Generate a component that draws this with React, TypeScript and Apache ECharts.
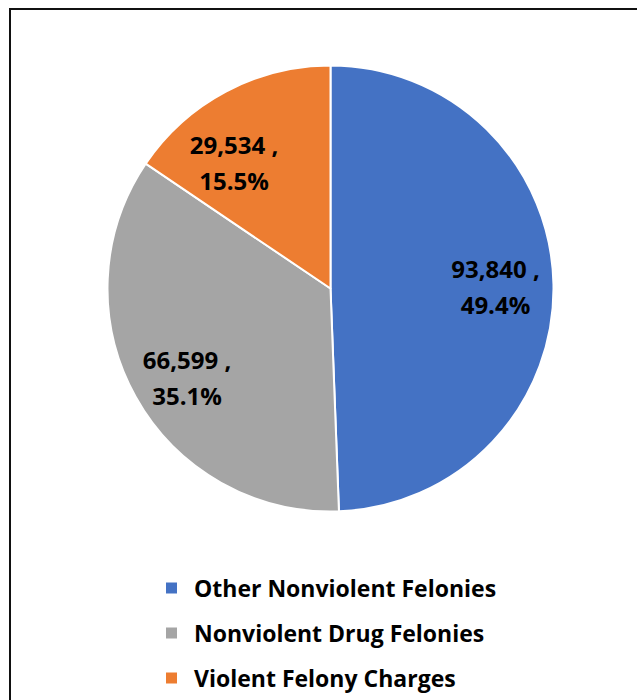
import React, { useEffect, useRef } from "react";
import * as echarts from "echarts";

const categories = [
  "Other Nonviolent Felonies",
  "Nonviolent Drug Felonies",
  "Violent Felony Charges",
];
const counts = [93840, 66599, 29534];
const colors = ["#4472C4", "#A5A5A5", "#ED7D31"];
const labelOffsets = [
  [2, 1],
  [-1, 10],
  [-20, 18],
];

export default function App() {
  const ref = useRef<HTMLDivElement>(null);
  useEffect(() => {
    if (!ref.current) return;
    const chart = echarts.init(ref.current, undefined, { renderer: "svg" });
    const fontFamily = "Open Sans";
    const baseData = categories.map((name, i) => ({
      name,
      value: counts[i],
      itemStyle: { color: colors[i] },
    }));
    chart.setOption({
      animation: false,
      backgroundColor: "#ffffff",
      graphic: [
        {
          type: "rect",
          shape: { x: 10, y: 9, width: 700, height: 800 },
          style: { fill: "none", stroke: "#111", lineWidth: 2 },
          z: 100,
        },
      ],
      legend: {
        orient: "vertical",
        left: 164,
        top: 576,
        padding: 0,
        itemWidth: 13,
        itemHeight: 13,
        itemGap: 21,
        icon: "rect",
        data: categories,
        textStyle: {
          fontFamily,
          fontWeight: "bold",
          fontSize: 23,
          lineHeight: 24,
          color: "#000",
          padding: [0, 0, 0, 11],
        },
      },
      series: [
        {
          type: "pie",
          center: [330.5, 288.5],
          radius: [0, 223],
          startAngle: 90,
          clockwise: true,
          data: baseData,
          itemStyle: { borderColor: "#fff", borderWidth: 2 },
          label: { show: false },
          labelLine: { show: false },
          emphasis: { disabled: true },
          silent: true,
        },
        {
          type: "pie",
          center: [330.5, 288.5],
          radius: [0, 320],
          startAngle: 90,
          clockwise: true,
          silent: true,
          z: 5,
          emphasis: { disabled: true },
          data: categories.map((name, i) => ({
            name,
            value: counts[i],
            itemStyle: { color: "rgba(0,0,0,0)", borderWidth: 0 },
            label: { offset: labelOffsets[i] },
          })),
          labelLine: { show: false },
          label: {
            show: true,
            position: "inside",
            fontFamily,
            fontWeight: "bold",
            fontSize: 24,
            lineHeight: 36,
            color: "#000",
            align: "center",
            formatter: (p: any) =>
              `${Number(p.value).toLocaleString("en-US")} ,\n${p.percent.toFixed(1)}%`,
          },
        },
      ],
    });
    return () => chart.dispose();
  }, []);
  return (
    <div
      ref={ref}
      style={{ position: "fixed", left: 0, top: 0, width: 637, height: 700 }}
    />
  );
}
